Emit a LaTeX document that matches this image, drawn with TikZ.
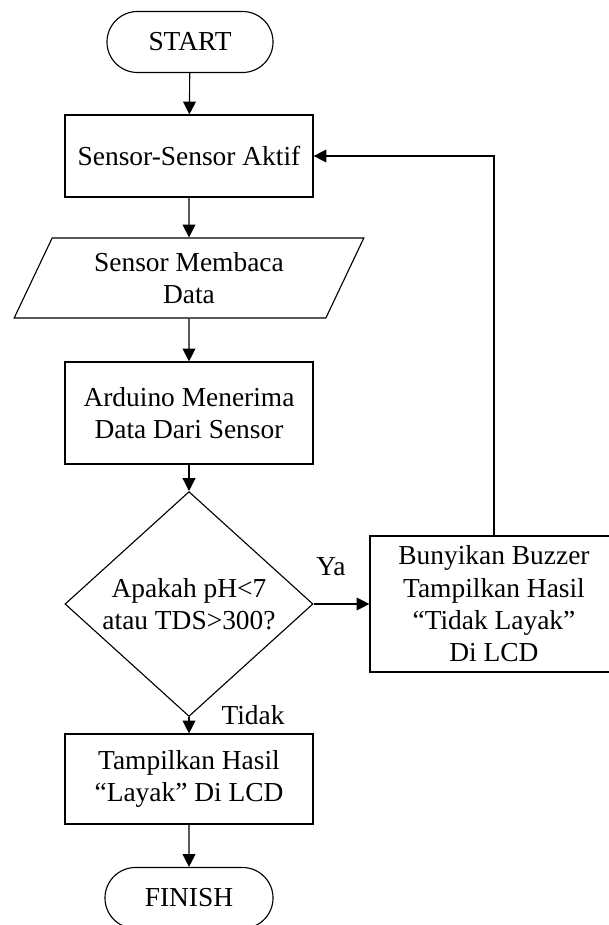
\documentclass[tikz,border=0pt]{standalone}
\usepackage{fontspec}
\setmainfont{Liberation Serif}
\usetikzlibrary{shapes.geometric,shapes.misc,arrows.meta}

\tikzset{
	box/.style={draw, line width=0.8pt, align=center, inner sep=0pt, minimum width=6.2cm},
	term/.style={draw, rounded rectangle, line width=0.8pt, inner sep=0pt, minimum height=1.525cm},
	inout/.style={draw, trapezium, trapezium left angle=63, trapezium right angle=117, trapezium stretches=true, line width=0.8pt, align=center, inner sep=0pt, minimum width=8.75cm, minimum height=2cm},
	decision/.style={draw, diamond, line width=0.8pt, align=center, inner sep=0pt, minimum width=6.2cm, minimum height=4.625cm},
	arr/.style={line width=0.8pt, -{Triangle[length=0.32cm, width=0.32cm]}}
}

\begin{document}
\begin{tikzpicture}[x=0.025cm, y=-0.025cm, font=\fontsize{19.5}{23}\selectfont]
	\useasboundingbox (0,0) rectangle (608,925);

	\node[term, minimum width=4.15cm] (st) at (190, 42) {START};
	\node[box, minimum height=2.05cm] (sa) at (189, 156) {Sensor-Sensor Aktif};
	\node[inout] (smd) at (189, 278) {Sensor Membaca\\Data};
	\node[box, minimum height=2.55cm] (amd) at (189, 413) {Arduino Menerima\\Data Dari Sensor};
	\node[decision] (dec) at (189, 604) {Apakah pH<7\\atau TDS>300?};
	\node[box, minimum height=3.4cm] (bz) at (494, 604) {Bunyikan Buzzer\\Tampilkan Hasil\\“Tidak Layak”\\Di LCD};
	\node[box, minimum height=2.25cm] (th) at (189, 779) {Tampilkan Hasil\\“Layak” Di LCD};
	\node[term, minimum width=4.2cm] (fin) at (189, 898) {FINISH};

	\node (ya) at (331, 567) {Ya};
	\node (tdk) at (253, 715) {Tidak};

	\path (st) edge[arr] (sa)
	(sa) edge[arr] (smd)
	(smd) edge[arr] (amd)
	(amd) edge[arr] (dec)
	(dec) edge[arr] (bz)
	(dec) edge[arr] (th)
	(th) edge[arr] (fin);
	\draw[arr] (bz.north) |- (sa.east);
\end{tikzpicture}
\end{document}
